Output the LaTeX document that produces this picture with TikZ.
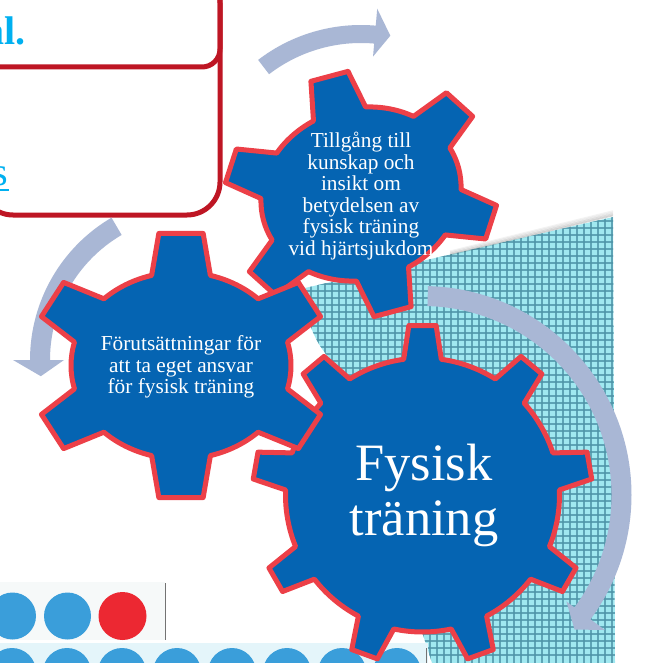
\documentclass[tikz,border=0pt]{standalone}
\usepackage{fontspec}
\setmainfont{Liberation Serif}
\definecolor{gearblue}{RGB}{5,100,178}
\definecolor{gearred}{RGB}{236,64,72}
\definecolor{boxred}{RGB}{190,22,36}
\definecolor{arrowblue}{RGB}{169,183,213}
\definecolor{cyantext}{RGB}{0,176,240}
\definecolor{patbg}{RGB}{160,232,240}
\definecolor{patline}{RGB}{78,148,168}
\definecolor{dotblue}{RGB}{58,158,218}
\definecolor{dotred}{RGB}{236,40,50}
\definecolor{stripbg}{RGB}{246,249,249}
\definecolor{strip2bg}{RGB}{228,245,250}
\tikzset{
  gearst/.style={fill=gearblue, draw=gearred, line width=5pt, line join=round},
  gtext/.style={text=white, align=center, inner sep=0pt},
  arrowst/.style={fill=arrowblue},
  boxst/.style={draw=boxred, line width=5pt},
}
% n, rx, ry, depth, tip half angle, base half angle, start angle
\newcommand{\gearshape}[7]{%
  \pgfmathsetmacro{\gax}{#2-#4}%
  \pgfmathsetmacro{\gay}{#3-#4}%
  \pgfmathsetmacro{\gst}{360/#1}%
  \draw[gearst] ({#7-#6}:\gax\space and \gay)
    \foreach \gi [evaluate=\gi as \ga using {#7+(\gi-1)*\gst},
                  evaluate=\gi as \gsa using {#7+(\gi-1)*\gst+#6},
                  evaluate=\gi as \gea using {#7+\gi*\gst-#6}] in {1,...,#1} {
      -- ({\ga-#6}:\gax\space and \gay)
      -- ({\ga-#5}:#2 and #3)
      -- ({\ga+#5}:#2 and #3)
      -- ({\ga+#6}:\gax\space and \gay)
      arc[start angle=\gsa, end angle=\gea, x radius=\gax, y radius=\gay]
    } -- cycle;%
}
\begin{document}
\begin{tikzpicture}[x=1pt, y=-1pt]
\useasboundingbox (0,0) rectangle (654,663);
\clip (0,0) rectangle (654,663);
\fill[white] (0,0) rectangle (654,663);

% patterned background with curled corner
\begin{scope}
  \clip (305,288) -- (613,217) -- (615,663) -- (432,663) -- (380,500) -- (360,385)
        .. controls (325,360) and (305,335) .. (305,288) -- cycle;
  \fill[patbg] (290,200) rectangle (630,663);
  \foreach \k in {0,...,65} {
    \draw[patline, opacity=0.8, line width=1.9pt] (290+\k*7,200) -- (290+\k*7,663);
    \draw[patline, opacity=0.8, line width=1.9pt] (290,200+\k*7) -- (630,200+\k*7);
  }
\end{scope}
\foreach \k/\o in {1/0.16,2/0.12,3/0.08,4/0.05} {
  \draw[black, opacity=\o, line width=1.5pt] (450,256-\k*1.2) -- (613,217-\k*1.5);
}

% picture strips with dots, bottom left
\fill[stripbg] (0,582) rectangle (165,640);
\draw[black!55, line width=0.8pt] (165,583) -- (165,640);
\fill[dotblue] (12.5,616) circle (23.5);
\fill[dotblue] (67.5,616) circle (23.5);
\fill[dotred] (122.5,616) circle (24);
\begin{scope}
  \clip (0,643) rectangle (428,663);
  \fill[strip2bg] (0,643) rectangle (428,663);
  \foreach \cx in {12,67,122,177,232,287,342,397} {
    \fill[dotblue] (\cx,672) circle (24);
  }
\end{scope}
\draw[black!55, line width=0.8pt] (426,648) -- (426,663);

% red text boxes top left
\draw[boxst, rounded corners=33pt] (-20,-30) rectangle (220,215);
\draw[boxst, rounded corners=18pt] (-20,-30) rectangle (220,67);
\node[anchor=base east, inner sep=0pt, text=cyantext, font=\fontsize{40}{44}\selectfont\bfseries] (al) at (25.5,45) {al.};
\node[anchor=base east, inner sep=0pt, text=cyantext, font=\fontsize{40}{44}\selectfont] (s) at (8.5,185) {s};
\draw[cyantext, line width=2pt] (0,190) -- (8.5,190);

% circular arrows
\begin{scope}[shift={(361,194)}]
  \fill[arrowst] (-127.5:169) arc[start angle=-127.5, end angle=-85, radius=169]
    -- (-85:186) -- (-79.5:161) -- (-85:138) -- (-85:151)
    arc[start angle=-85, end angle=-127.5, radius=151] -- cycle;
\end{scope}
\begin{scope}[shift={(195,360)}]
  \fill[arrowst] (-120.4:165) arc[start angle=-120.4, end angle=-180, radius=165]
    -- (-180:182) -- (-186:155) -- (-180:131) -- (-180:145)
    arc[start angle=-180, end angle=-120.4, radius=145] -- cycle;
\end{scope}
\begin{scope}[shift={(422.5,495)}]
  \fill[arrowst] (-88.5:209) arc[start angle=-88.5, end angle=36.5, radius=209]
    -- (36.5:227) -- (41.5:203) -- (36.5:179) -- (36.5:189)
    arc[start angle=36.5, end angle=-88.5, radius=189] -- cycle;
\end{scope}

% gears
\begin{scope}[shift={(361,194)}, rotate=15]
  \gearshape{6}{138}{123}{37}{8}{15.5}{-90}
\end{scope}
\begin{scope}[shift={(422.5,495)}]
  \gearshape{9}{170}{170}{33}{4.6}{7.9}{-90}
\end{scope}
\begin{scope}[shift={(181,365.5)}]
  \gearshape{6}{150}{133.5}{40}{8.5}{15.5}{-90}
\end{scope}

\node[gtext, font=\fontsize{21.3}{21.6}\selectfont] (tillgang) at (361,196)
  {Tillgång till\\kunskap och\\insikt om\\betydelsen av\\fysisk träning\\vid hjärtsjukdom};
\node[gtext, font=\fontsize{21.3}{21.6}\selectfont] (forut) at (181,367)
  {Förutsättningar för\\att ta eget ansvar\\för fysisk träning};
\node[gtext, font=\fontsize{52.5}{55}\selectfont] (fysisk) at (424,495)
  {Fysisk\\träning};
\end{tikzpicture}
\end{document}
